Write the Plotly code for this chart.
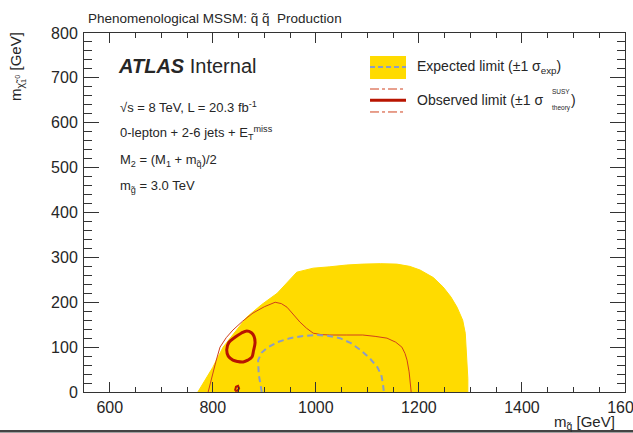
import plotly.graph_objects as go

# Expected limit +-1 sigma_exp envelope (squark mass, neutralino mass) in GeV
band_msq = [771, 800, 820, 845, 866, 895, 925, 963, 995, 1027, 1060, 1091, 1125, 1157,
            1182, 1202, 1228, 1247, 1262, 1274, 1285, 1290, 1293, 1295, 1295]
band_mchi = [0, 55, 100, 137, 167, 195, 220, 267, 276, 279, 283, 285, 286, 285,
             280, 272, 255, 234, 212, 189, 160, 131, 71, 30, 0]

# Expected limit (central)
exp_msq = [895, 889, 888, 895, 905, 925, 950, 975, 1002, 1025, 1047, 1068, 1086, 1104, 1119, 1127, 1130, 1132]
exp_mchi = [0, 40, 71, 88, 98, 111, 120, 125, 127, 125, 120, 109, 94, 76, 56, 38, 20, 0]

# Observed limit (central): closed island plus a small piece near the axis
obs_msq = [827, 831, 843, 855, 866, 875, 880, 882, 879, 876, 868, 859, 848, 839, 830, 827]
obs_mchi = [94, 110, 122, 131, 136, 132, 124, 110, 92, 78, 71, 67, 68, 71, 80, 94]
obs2_msq = [843, 845, 849, 851, 848, 844, 843]
obs2_mchi = [3, 12, 14, 8, 3, 2, 3]

# Observed limit +1 sigma_theory
obsup_msq = [791, 794, 798, 806, 814, 826, 839, 858, 878, 900, 921, 933, 944, 956, 969, 982,
             995, 1010, 1027, 1060, 1091, 1115, 1138, 1155, 1167, 1173, 1177, 1181, 1183, 1185]
obsup_mchi = [0, 15, 33, 68, 100, 121, 138, 158, 176, 190, 200, 197, 189, 172, 156, 142,
              131, 128, 127, 127, 127, 124, 120, 111, 100, 86, 71, 45, 20, 0]

x_ticks = [600, 800, 1000, 1200, 1400, 1600]
y_ticks = [0, 100, 200, 300, 400, 500, 600, 700, 800]

YELLOW = "#FFDB00"
EXP_COL = "#8C9CC4"
OBS_COL = "#B81400"
OBS_THIN = "#D0401C"
TXT = "#262626"
FONT = "Liberation Sans"

fig = go.Figure()
fig.add_trace(go.Scatter(x=band_msq, y=band_mchi, mode="lines", fill="toself",
                         fillcolor=YELLOW, line=dict(color=YELLOW, width=1),
                         hoverinfo="skip", showlegend=False))
fig.add_trace(go.Scatter(x=obsup_msq, y=obsup_mchi, mode="lines",
                         line=dict(color=OBS_THIN, width=1), showlegend=False))
fig.add_trace(go.Scatter(x=exp_msq, y=exp_mchi, mode="lines",
                         line=dict(color=EXP_COL, width=2, dash="6px,4px"), showlegend=False))
fig.add_trace(go.Scatter(x=obs_msq, y=obs_mchi, mode="lines",
                         line=dict(color=OBS_COL, width=3, shape="spline"), showlegend=False))
fig.add_trace(go.Scatter(x=obs2_msq, y=obs2_mchi, mode="lines",
                         line=dict(color=OBS_COL, width=2), showlegend=False))

axis_common = dict(showgrid=False, zeroline=False, showline=True, linecolor="#333333",
                   linewidth=1, mirror="allticks", ticks="inside", tickcolor="#333333",
                   tickwidth=1, tickfont=dict(family=FONT, size=16, color=TXT),
                   ticklabeloverflow="allow", automargin=False)

fig.update_xaxes(range=[550, 1600], tickvals=x_ticks, ticklen=10, ticklabelstandoff=1,
                 minor=dict(dtick=50, tick0=0, ticks="inside", ticklen=5, tickcolor="#333333"),
                 **axis_common)
fig.update_yaxes(range=[0, 800], tickvals=y_ticks, ticklen=15, ticklabelstandoff=2,
                 minor=dict(dtick=20, tick0=0, ticks="inside", ticklen=8, tickcolor="#333333"),
                 **axis_common)

shapes = []
# legend: expected
shapes.append(dict(type="rect", xref="paper", yref="paper", x0=0.5287, x1=0.5952,
                   y0=0.872, y1=0.936, fillcolor=YELLOW, line=dict(width=0)))
shapes.append(dict(type="line", xref="paper", yref="paper", x0=0.5287, x1=0.5952,
                   y0=0.905, y1=0.905, line=dict(color=EXP_COL, width=2, dash="5px,3px")))
# legend: observed
shapes.append(dict(type="line", xref="paper", yref="paper", x0=0.5287, x1=0.5952,
                   y0=0.844, y1=0.844, line=dict(color=OBS_THIN, width=1, dash="dashdot")))
shapes.append(dict(type="line", xref="paper", yref="paper", x0=0.5287, x1=0.5952,
                   y0=0.813, y1=0.813, line=dict(color=OBS_COL, width=3)))
shapes.append(dict(type="line", xref="paper", yref="paper", x0=0.5287, x1=0.5952,
                   y0=0.780, y1=0.780, line=dict(color=OBS_THIN, width=1, dash="dashdot")))
# frame line along the bottom of the canvas
shapes.append(dict(type="line", xref="paper", yref="paper", x0=-0.2, x1=1.1,
                   y0=-0.109, y1=-0.109, line=dict(color="#444444", width=2.5)))

def txt(x, y, s, size=10, xanchor="left", **kw):
    return dict(xref="paper", yref="paper", x=x, y=y, text=s, showarrow=False,
                xanchor=xanchor, yanchor="middle",
                font=dict(family=FONT, size=size, color=TXT), **kw)

annotations = [
    txt(0.003, 1.04, "Phenomenological MSSM: q̃ q̃  Production", size=13.5),
    txt(0.060, 0.908, "<b><i>ATLAS</i></b> Internal", size=20),
    txt(0.062, 0.795, "√s = 8 TeV, L = 20.3 fb<sup>-1</sup>", size=13),
    txt(0.062, 0.722, "0-lepton + 2-6 jets + E<sub>T</sub><sup>miss</sup>", size=13),
    txt(0.062, 0.644, "M<sub>2</sub> = (M<sub>1</sub> + m<sub>q̃</sub>)/2", size=13),
    txt(0.062, 0.572, "m<sub>g̃</sub> = 3.0 TeV", size=13),
    txt(0.611, 0.905, "Expected limit (±1 σ<sub>exp</sub>)", size=14),
    txt(0.611, 0.813, "Observed limit (±1 σ", size=14),
    txt(0.862, 0.836, "SUSY", size=6.5),
    txt(0.862, 0.790, "theory", size=6.5),
    txt(0.896, 0.813, ")", size=14),
    dict(xref="paper", yref="paper", x=0.985, y=-0.085, text="m<sub>q̃</sub> [GeV]",
         showarrow=False, xanchor="right", yanchor="middle",
         font=dict(family=FONT, size=15, color=TXT)),
    dict(xref="paper", yref="paper", x=-0.122, y=1.01, text="m<sub>χ̃<sub>1</sub><sup>0</sup></sub> [GeV]",
         showarrow=False, xanchor="center", yanchor="top", textangle=-90,
         font=dict(family=FONT, size=15, color=TXT)),
]

fig.update_layout(width=633, height=433, margin=dict(l=84, r=8, t=33, b=41),
                  paper_bgcolor="white", plot_bgcolor="white",
                  shapes=shapes, annotations=annotations, showlegend=False)

fig.write_html("out.html")
